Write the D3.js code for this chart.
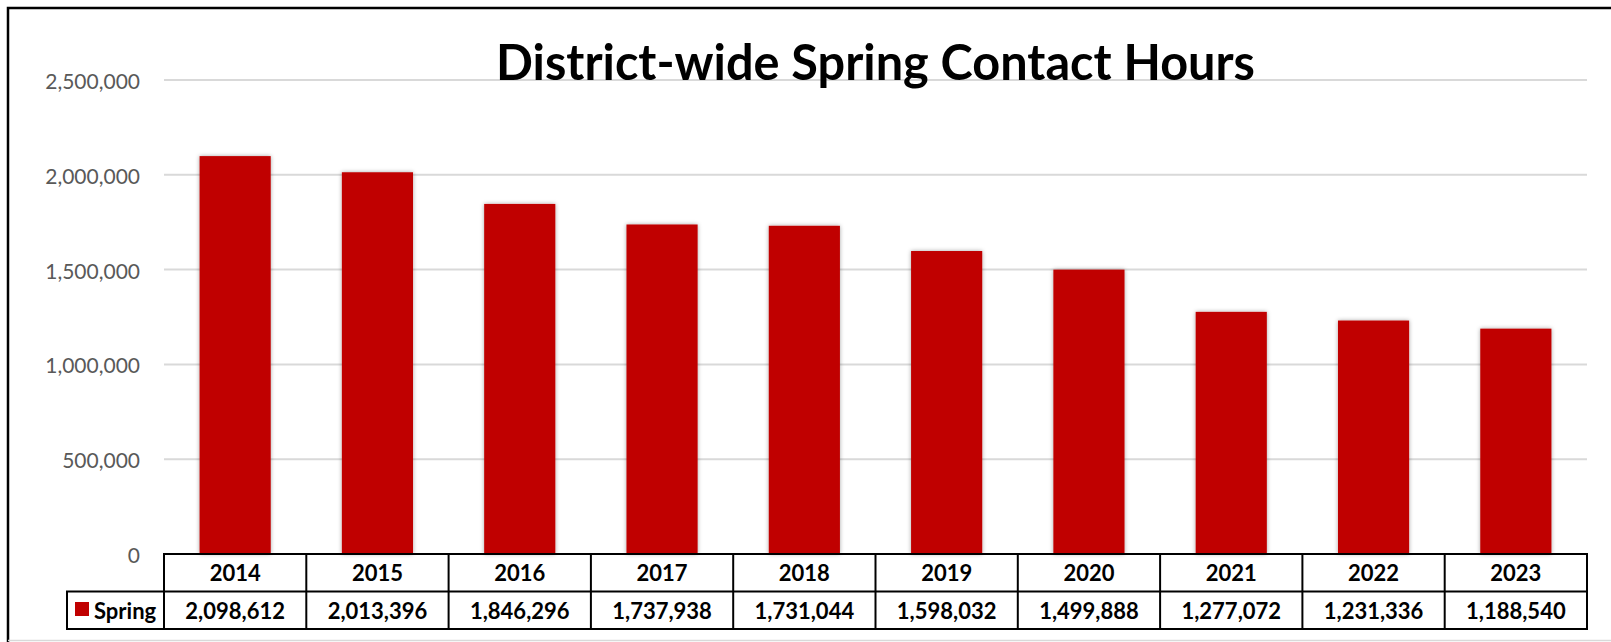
<!DOCTYPE html>
<html>
<head>
<meta charset="utf-8">
<script src="https://d3js.org/d3.v7.min.js"></script>
<style>
body { margin: 0; background: #fff; }
svg { display: block; }
text { font-family: Lato, "Open Sans", sans-serif; }
.tick-label { font-size: 21px; fill: #595959; text-anchor: end; dominant-baseline: central; }
.cell { font-size: 22px; font-weight: bold; fill: #000; text-anchor: middle; }
</style>
</head>
<body>
<div id="chart"></div>
<script>
var width = 1611;
var height = 642;

// data
var years = ["2014", "2015", "2016", "2017", "2018", "2019", "2020", "2021", "2022", "2023"];
var spring = [2098612, 2013396, 1846296, 1737938, 1731044, 1598032, 1499888, 1277072, 1231336, 1188540];
var yTicks = [0, 500000, 1000000, 1500000, 2000000, 2500000];
var seriesName = "Spring";
var title = "District-wide Spring Contact Hours";

var plotLeft = 164, plotRight = 1587, plotTop = 80, plotBottom = 554;
var rowH = 37.5;
var legendLeft = 67;

var svg = d3.select("#chart").append("svg")
  .attr("width", width).attr("height", height);

var defs = svg.append("defs");
var shadow = defs.append("filter").attr("id", "shadow")
  .attr("x", "-20%").attr("y", "-10%").attr("width", "140%").attr("height", "120%");
shadow.append("feDropShadow")
  .attr("dx", 0).attr("dy", 0).attr("stdDeviation", 2.2)
  .attr("flood-color", "#000").attr("flood-opacity", 0.35);

// outer frame
svg.append("path")
  .attr("d", "M8,650 L8,8 L1620,8")
  .style("fill", "none").style("stroke", "#000").style("stroke-width", 2.5);
svg.append("line")
  .attr("x1", 8).attr("x2", 1611).attr("y1", 640.5).attr("y2", 640.5)
  .style("stroke", "#d9d9d9").style("stroke-width", 1.5);

var xScale = d3.scaleBand().domain(years)
  .range([plotLeft, plotRight]).paddingInner(0.5).paddingOuter(0.25);
var colScale = d3.scaleBand().domain(years).range([plotLeft, plotRight]);
var yScale = d3.scaleLinear().domain([0, 2500000]).range([plotBottom, plotTop]);

// gridlines
svg.append("g").selectAll("line").data(yTicks.filter(function(d) { return d > 0; }))
  .enter().append("line")
  .attr("x1", plotLeft).attr("x2", plotRight)
  .attr("y1", function(d) { return yScale(d); })
  .attr("y2", function(d) { return yScale(d); })
  .style("stroke", "#d9d9d9").style("stroke-width", 2);

// y axis labels
var yAxis = d3.axisLeft(yScale).tickValues(yTicks).tickFormat(d3.format(",")).tickSize(0).tickPadding(24);
var yg = svg.append("g").attr("transform", "translate(" + plotLeft + ",0)").call(yAxis);
yg.select(".domain").remove();
yg.selectAll("text").attr("class", "tick-label").attr("dy", null).attr("x", 140 - plotLeft);

// title
svg.append("text")
  .attr("x", (496 + 1255) / 2).attr("y", 80)
  .attr("text-anchor", "middle")
  .attr("textLength", 759).attr("lengthAdjust", "spacingAndGlyphs")
  .style("font-size", "50px").style("font-weight", "bold").style("font-family", "Lato, 'Open Sans', sans-serif")
  .text(title);

// bars
svg.append("g").selectAll("rect").data(spring).enter().append("rect")
  .attr("x", function(d, i) { return xScale(years[i]); })
  .attr("width", xScale.bandwidth())
  .attr("y", function(d) { return yScale(d); })
  .attr("height", function(d) { return yScale(0) - yScale(d); })
  .attr("filter", "url(#shadow)")
  .style("fill", "#c00000");

// data table
var table = svg.append("g");
var lineStyle = function(sel) { sel.style("stroke", "#000").style("stroke-width", 2).style("fill", "none"); };

table.append("rect").attr("x", plotLeft).attr("y", plotBottom)
  .attr("width", plotRight - plotLeft).attr("height", rowH * 2).call(lineStyle);
table.append("rect").attr("x", legendLeft).attr("y", plotBottom + rowH)
  .attr("width", plotLeft - legendLeft).attr("height", rowH).call(lineStyle);
table.append("line").attr("x1", plotLeft).attr("x2", plotRight)
  .attr("y1", plotBottom + rowH).attr("y2", plotBottom + rowH).call(lineStyle);
table.selectAll(".sep").data(years.slice(1)).enter().append("line")
  .attr("x1", function(d) { return colScale(d); }).attr("x2", function(d) { return colScale(d); })
  .attr("y1", plotBottom).attr("y2", plotBottom + rowH * 2).call(lineStyle);

table.selectAll(".yr").data(years).enter().append("text")
  .attr("class", "cell")
  .attr("x", function(d) { return colScale(d) + colScale.bandwidth() / 2; })
  .attr("y", plotBottom + 27)
  .text(function(d) { return d; });

table.selectAll(".val").data(spring).enter().append("text")
  .attr("class", "cell")
  .attr("x", function(d, i) { return colScale(years[i]) + colScale.bandwidth() / 2; })
  .attr("y", plotBottom + rowH + 27)
  .text(function(d) { return d3.format(",")(d); });

// legend key
table.append("rect").attr("x", 75).attr("y", 602).attr("width", 14).attr("height", 14)
  .style("fill", "#c00000");
table.append("text").attr("class", "cell").attr("x", 94).attr("y", plotBottom + rowH + 27)
  .style("text-anchor", "start")
  .text(seriesName);
</script>
</body>
</html>
